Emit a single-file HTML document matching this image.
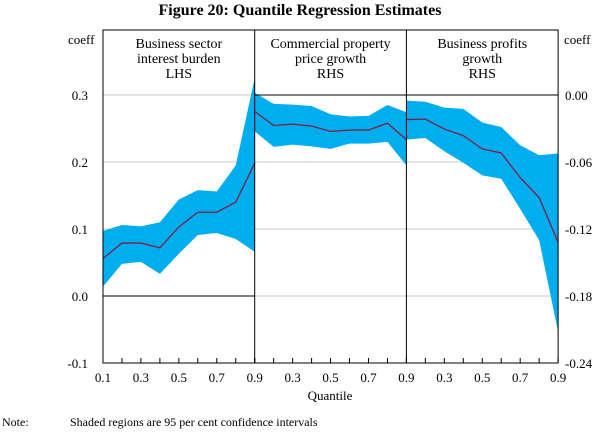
<!DOCTYPE html><html><head><meta charset="utf-8"><style>body{margin:0;background:#fff}svg{font-family:"Liberation Serif",serif}</style></head><body>
<svg id="c" width="600" height="431" viewBox="0 0 600 431">
<text x="300" y="15" text-anchor="middle" font-size="16" font-weight="bold">Figure 20: Quantile Regression Estimates</text>
<text x="68" y="44" font-size="13">coeff</text>
<text x="564" y="44" font-size="13">coeff</text>
<g id="grid"></g><g id="series"></g><g id="frame"></g>
<text x="330" y="400" text-anchor="middle" font-size="13">Quantile</text>
<text x="2" y="426" font-size="12">Note:</text>
<text x="70" y="426" font-size="12">Shaded regions are 95 per cent confidence intervals</text>
</svg>
<script>
const quantiles=[0.1,0.2,0.3,0.4,0.5,0.6,0.7,0.8,0.9];
const p1Mid=[0.056,0.079,0.079,0.072,0.103,0.125,0.125,0.14,0.198];
const p1Up=[0.097,0.106,0.104,0.110,0.144,0.158,0.156,0.195,0.325];
const p1Lo=[0.014,0.048,0.051,0.033,0.063,0.091,0.094,0.085,0.066];
const p2Mid=[-0.0148,-0.0273,-0.0261,-0.0278,-0.0326,-0.0314,-0.0314,-0.0252,-0.04];
const p2Up=[0.002,-0.008,-0.0086,-0.0098,-0.0172,-0.0193,-0.0187,-0.0089,-0.0154];
const p2Lo=[-0.0326,-0.0465,-0.0444,-0.046,-0.0483,-0.0436,-0.0436,-0.042,-0.063];
const p3Mid=[-0.022,-0.0216,-0.0305,-0.0364,-0.0483,-0.0519,-0.074,-0.0918,-0.132];
const p3Up=[-0.005,-0.006,-0.0113,-0.0124,-0.0246,-0.0287,-0.045,-0.054,-0.0524];
const p3Lo=[-0.04,-0.0385,-0.0504,-0.0607,-0.072,-0.075,-0.102,-0.13,-0.212];
const leftTicks=["0.3","0.2","0.1","0.0","-0.1"];
const rightTicks=["0.00","-0.06","-0.12","-0.18","-0.24"];
const xTickLabels=["0.1","0.3","0.5","0.7","0.9"];
const titles=[["Business sector","interest burden","LHS"],["Commercial property","price growth","RHS"],["Business profits","growth","RHS"]];
const NS="http://www.w3.org/2000/svg";
const X0=103,PW=151.7,T=30,B=363;
const yL=v=>296-(v)*670;
const yR=v=>95-(v)*(67/0.06);
const xq=(p,q)=>X0+p*PW+(q-0.1)/0.8*PW;
function mk(tag,at,par){const e=document.createElementNS(NS,tag);for(const k in at)e.setAttribute(k,at[k]);document.getElementById(par).appendChild(e);return e;}
// grid
leftTicks.forEach((t,i)=>{const y=95+i*67;
const g=mk('line',{x1:X0,x2:X0+3*PW,y1:y,y2:y,stroke:'#c8c8c8','stroke-width':1},'grid');


const a=mk('text',{x:88,y:y+5,'text-anchor':'end','font-size':13},'frame');a.textContent=t;


const b=mk('text',{x:565,y:y+5,'font-size':13},'frame');b.textContent=rightTicks[i];

});
// zero lines
let z=mk('line',{x1:X0,x2:X0+PW,y1:yL(0),y2:yL(0),stroke:'#000'},'frame');


z=mk('line',{x1:X0+PW,x2:X0+3*PW,y1:yR(0),y2:yR(0),stroke:'#000'},'frame');


const sets=[[p1Mid,p1Up,p1Lo,yL],[p2Mid,p2Up,p2Lo,yR],[p3Mid,p3Up,p3Lo,yR]];
sets.forEach((s,p)=>{const [m,u,l,f]=s;
let pts=quantiles.map((q,i)=>xq(p,q)+','+f(u[i])).concat(quantiles.map((q,i)=>xq(p,q)+','+f(l[i])).reverse());
const band=mk('polygon',{points:pts.join(' '),fill:'#00aeef'},'series');


const ln=mk('polyline',{points:quantiles.map((q,i)=>xq(p,q)+','+f(m[i])).join(' '),fill:'none',stroke:'#7a2048','stroke-width':1.3},'series');


quantiles.forEach(q=>{const tk=mk('line',{x1:xq(p,q),x2:xq(p,q),y1:B,y2:B-5,stroke:'#000'},'frame');

});
xTickLabels.forEach((t,i)=>{if(p>0&&i==0)return;const xl=mk('text',{x:xq(p,parseFloat(t)),y:382,'text-anchor':'middle','font-size':13},'frame');xl.textContent=t;

});
titles[p].forEach((t,i)=>{const tt=mk('text',{x:X0+p*PW+PW/2,y:48+i*15,'text-anchor':'middle','font-size':14},'frame');tt.textContent=t;

});
if(p>0){const d=mk('line',{x1:X0+p*PW,x2:X0+p*PW,y1:T,y2:B,stroke:'#000'},'frame');

}
});
const fr=mk('rect',{x:X0,y:T,width:3*PW,height:B-T,fill:'none',stroke:'#000'},'frame');


</script></body></html>
